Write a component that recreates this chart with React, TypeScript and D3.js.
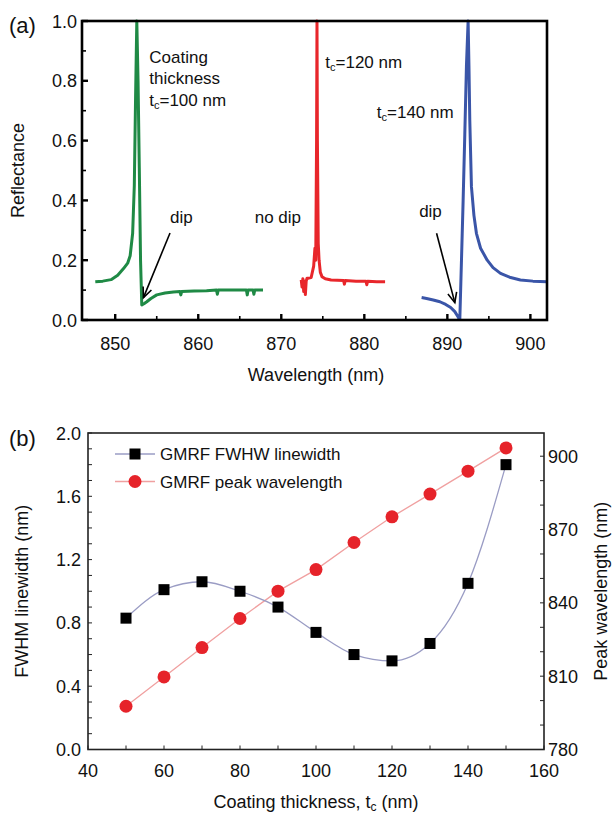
import React from "react";
import * as d3 from "d3";

// ---- panel (a): reflectance spectra ----
const greenWl = [847.6, 848.5, 849.5, 850.3, 851.0, 851.5, 851.8, 852.1, 852.3, 852.45, 852.6, 852.75, 852.9, 853.05, 853.2, 853.5, 853.8, 854.3, 855.0, 856.0, 857.0, 857.8, 857.9, 858.0, 859.5, 861.0, 862.2, 862.3, 862.4, 864.0, 865.8, 865.9, 866.0, 866.6, 866.7, 866.8, 867.8];
const greenR = [0.128, 0.13, 0.135, 0.15, 0.172, 0.19, 0.215, 0.29, 0.45, 0.74, 1.0, 0.8, 0.51, 0.2, 0.05, 0.055, 0.061, 0.072, 0.084, 0.09, 0.094, 0.095, 0.084, 0.095, 0.097, 0.098, 0.1, 0.086, 0.1, 0.1, 0.1, 0.084, 0.1, 0.1, 0.086, 0.1, 0.1];

const redWl = [872.4, 872.5, 872.6, 872.7, 872.8, 872.9, 873.0, 873.1, 873.3, 873.6, 873.9, 874.05, 874.15, 874.25, 874.3, 874.35, 874.45, 874.55, 874.7, 874.9, 875.3, 876.0, 877.5, 877.6, 877.7, 879.0, 880.2, 880.3, 880.4, 881.5, 882.5];
const redR = [0.134, 0.11, 0.138, 0.095, 0.13, 0.085, 0.13, 0.14, 0.14, 0.142, 0.18, 0.24, 0.2, 0.6, 1.0, 0.6, 0.256, 0.2, 0.16, 0.145, 0.138, 0.134, 0.132, 0.12, 0.132, 0.13, 0.13, 0.118, 0.13, 0.128, 0.128];

const blueWl = [886.9, 887.5, 888.3, 889.1, 889.8, 890.4, 890.9, 891.3, 891.5, 891.7, 891.9, 892.1, 892.3, 892.5, 892.6, 892.7, 892.9, 893.2, 893.5, 894.0, 894.8, 895.5, 896.4, 897.5, 898.8, 900.3, 902.0];
const blueR = [0.075, 0.072, 0.067, 0.061, 0.052, 0.042, 0.028, 0.01, 0.0, 0.2, 0.4, 0.62, 0.85, 1.0, 0.85, 0.67, 0.446, 0.35, 0.29, 0.24, 0.2, 0.175, 0.156, 0.143, 0.134, 0.13, 0.128];

const aXTicks = [850, 860, 870, 880, 890, 900];
const aYTicks = [0, 0.2, 0.4, 0.6, 0.8, 1.0];

// ---- panel (b): GMRF linewidth & peak wavelength ----
const thickness = [50, 60, 70, 80, 90, 100, 110, 120, 130, 140, 150];
const fwhm = [0.83, 1.01, 1.06, 1.0, 0.9, 0.74, 0.6, 0.56, 0.67, 1.05, 1.8];
const peakWl = [797.7, 809.7, 821.7, 833.6, 844.8, 853.6, 864.7, 875.2, 884.5, 893.9, 903.4];

const bXTicks = [40, 60, 80, 100, 120, 140, 160];
const bYTicks = [0, 0.4, 0.8, 1.2, 1.6, 2.0];
const bY2Ticks = [780, 810, 840, 870, 900];

const FONT = "'Liberation Sans', Arial, Helvetica, sans-serif";

export default function App() {
  // panel a scales
  const ax = d3.scaleLinear().domain([846, 902]).range([82, 547]);
  const ay = d3.scaleLinear().domain([0, 1]).range([320, 21]);
  const aLine = d3.line<[number, number]>().x((d) => ax(d[0])).y((d) => ay(d[1]));
  const zip = (a: number[], b: number[]) => a.map((v, i) => [v, b[i]] as [number, number]);
  const aMinorX = d3.range(850, 901, 5);
  const aMinorY = d3.range(0, 1.01, 0.1);

  // panel b scales
  const bx = d3.scaleLinear().domain([40, 160]).range([88, 544]);
  const by = d3.scaleLinear().domain([0, 2]).range([749.5, 433]);
  const by2 = d3.scaleLinear().domain([780, 909.5]).range([749.5, 433]);
  const fLine = d3
    .line<number>()
    .x((_, i) => bx(thickness[i]))
    .y((d) => by(d))
    .curve(d3.curveMonotoneX);
  const pLine = d3
    .line<number>()
    .x((_, i) => bx(thickness[i]))
    .y((d) => by2(d));
  const bMinorX = d3.range(40, 161, 10);
  const bMinorY = d3.range(0, 2.01, 0.1);
  const bMinorY2 = d3.range(780, 909, 10);

  const txt = { fontFamily: FONT, fontSize: 17, fill: "#111" } as const;
  const tick = { ...txt, fontSize: 18 };

  const arrow = (x1: number, y1: number, x2: number, y2: number) => {
    const X1 = ax(x1), Y1 = ay(y1), X2 = ax(x2), Y2 = ay(y2);
    const ang = Math.atan2(Y2 - Y1, X2 - X1);
    const L = 11, w = 0.42;
    const p1 = [X2 - L * Math.cos(ang - w), Y2 - L * Math.sin(ang - w)];
    const p2 = [X2 - L * Math.cos(ang + w), Y2 - L * Math.sin(ang + w)];
    return (
      <g stroke="#000" strokeWidth={1.6} fill="none">
        <line x1={X1} y1={Y1} x2={X2} y2={Y2} />
        <polyline points={`${p1[0]},${p1[1]} ${X2},${Y2} ${p2[0]},${p2[1]}`} />
      </g>
    );
  };

  const tc = (x: number, y: number, rest: string) => (
    <text x={x} y={y} {...txt}>
      t<tspan fontSize={11} dy={3}>c</tspan>
      <tspan dy={-3}>{rest}</tspan>
    </text>
  );

  return (
    <svg width={616} height={813} style={{ position: "absolute", left: 0, top: 0 }}>
      <rect width={616} height={813} fill="#fff" />

      {/* ---------- panel (a) ---------- */}
      <text x={9} y={33} {...txt} fontSize={22}>(a)</text>
      <defs>
        <clipPath id="clipA">
          <rect x={82} y={19} width={465} height={302} />
        </clipPath>
      </defs>
      <g clipPath="url(#clipA)" fill="none" strokeWidth={3} strokeLinejoin="round">
        <path d={aLine(zip(greenWl, greenR)) || ""} stroke="#1f8a45" />
        <path d={aLine(zip(redWl, redR)) || ""} stroke="#e8262b" />
        <path d={aLine(zip(blueWl, blueR)) || ""} stroke="#3a55a8" />
      </g>
      {/* ticks */}
      <g stroke="#000" strokeWidth={1.6}>
        {aMinorX.map((t) => (
          <line key={t} x1={ax(t)} x2={ax(t)} y1={ay(0)} y2={ay(0) - (t % 10 === 0 ? 6 : 4)} strokeWidth={t % 10 === 0 ? 2.4 : 1.6} />
        ))}
        {aMinorY.map((t, i) => (
          <line key={i} x1={ax(846)} x2={ax(846) + (i % 2 === 0 ? 6 : 4)} y1={ay(t)} y2={ay(t)} strokeWidth={i % 2 === 0 ? 2.4 : 1.6} />
        ))}
      </g>
      <rect x={82} y={21} width={465} height={299} fill="none" stroke="#000" strokeWidth={2.6} />
      {aXTicks.map((t) => (
        <text key={t} x={ax(t)} y={350} textAnchor="middle" {...tick}>{t}</text>
      ))}
      {aYTicks.map((t) => (
        <text key={t} x={77} y={ay(t) + 6.5} textAnchor="end" {...tick}>{t.toFixed(1)}</text>
      ))}
      <text x={316} y={381} textAnchor="middle" {...tick}>Wavelength (nm)</text>
      <text transform={`translate(24,${ay(0.5)}) rotate(-90)`} textAnchor="middle" {...tick}>Reflectance</text>

      {/* annotations */}
      <text x={ax(854.1)} y={ay(0.86)} {...txt}>Coating</text>
      <text x={ax(854.1)} y={ay(0.79)} {...txt}>thickness</text>
      {tc(ax(854.1), ay(0.716), "=100 nm")}
      {tc(ax(875.3), ay(0.843), "=120 nm")}
      {tc(ax(881.5), ay(0.676), "=140 nm")}
      <text x={ax(856.6)} y={ay(0.325)} {...txt}>dip</text>
      <text x={ax(866.8)} y={ay(0.325)} {...txt}>no dip</text>
      <text x={ax(886.6)} y={ay(0.345)} {...txt}>dip</text>
      {arrow(856.6, 0.291, 853.4, 0.075)}
      {arrow(888.7, 0.29, 890.9, 0.058)}

      {/* ---------- panel (b) ---------- */}
      <text x={9} y={446} {...txt} fontSize={22}>(b)</text>
      <g stroke="#222" strokeWidth={1}>
        {bMinorX.map((t) => (
          <line key={t} x1={bx(t)} x2={bx(t)} y1={by(0)} y2={by(0) - 4} />
        ))}
        {bMinorY.map((t, i) => (
          <line key={i} x1={bx(40)} x2={bx(40) + 4} y1={by(t)} y2={by(t)} />
        ))}
        {bMinorY2.map((t) => (
          <line key={t} x1={bx(160)} x2={bx(160) - 4} y1={by2(t)} y2={by2(t)} />
        ))}
      </g>
      <rect x={88} y={433} width={456} height={316.5} fill="none" stroke="#222" strokeWidth={1.6} />

      <path d={pLine(peakWl) || ""} fill="none" stroke="#f0a0a0" strokeWidth={1.3} />
      <path d={fLine(fwhm) || ""} fill="none" stroke="#9a9cc4" strokeWidth={1.3} />
      {peakWl.map((v, i) => (
        <circle key={i} cx={bx(thickness[i])} cy={by2(v)} r={6.5} fill="#e6232a" />
      ))}
      {fwhm.map((v, i) => (
        <rect key={i} x={bx(thickness[i]) - 5.5} y={by(v) - 5.5} width={11} height={11} fill="#000" />
      ))}

      {/* legend */}
      <line x1={115} x2={155} y1={454} y2={454} stroke="#9a9cc4" strokeWidth={1.3} />
      <rect x={129.5} y={448.5} width={11} height={11} fill="#000" />
      <text x={160} y={460} {...txt}>GMRF FWHW linewidth</text>
      <line x1={115} x2={155} y1={481.5} y2={481.5} stroke="#f0a0a0" strokeWidth={1.3} />
      <circle cx={135} cy={481.5} r={6.5} fill="#e6232a" />
      <text x={160} y={487.5} {...txt}>GMRF peak wavelength</text>

      {bXTicks.map((t) => (
        <text key={t} x={bx(t)} y={777} textAnchor="middle" {...tick}>{t}</text>
      ))}
      {bYTicks.map((t) => (
        <text key={t} x={81} y={by(t) + 6.5} textAnchor="end" {...tick}>{t.toFixed(1)}</text>
      ))}
      <g>
        {bY2Ticks.map((t) => (
          <text key={t} x={548} y={by2(t) + 6.5} {...tick}>{t}</text>
        ))}
      </g>
      <text x={316} y={808} textAnchor="middle" {...tick}>
        Coating thickness, t<tspan fontSize={12} dy={3}>c</tspan>
        <tspan dy={-3}> (nm)</tspan>
      </text>
      <text transform={`translate(28,${by(1)}) rotate(-90)`} textAnchor="middle" {...tick}>FWHM linewidth (nm)</text>
      <text transform={`translate(607,${by(1)}) rotate(-90)`} textAnchor="middle" {...tick}>Peak wavelength (nm)</text>
    </svg>
  );
}
